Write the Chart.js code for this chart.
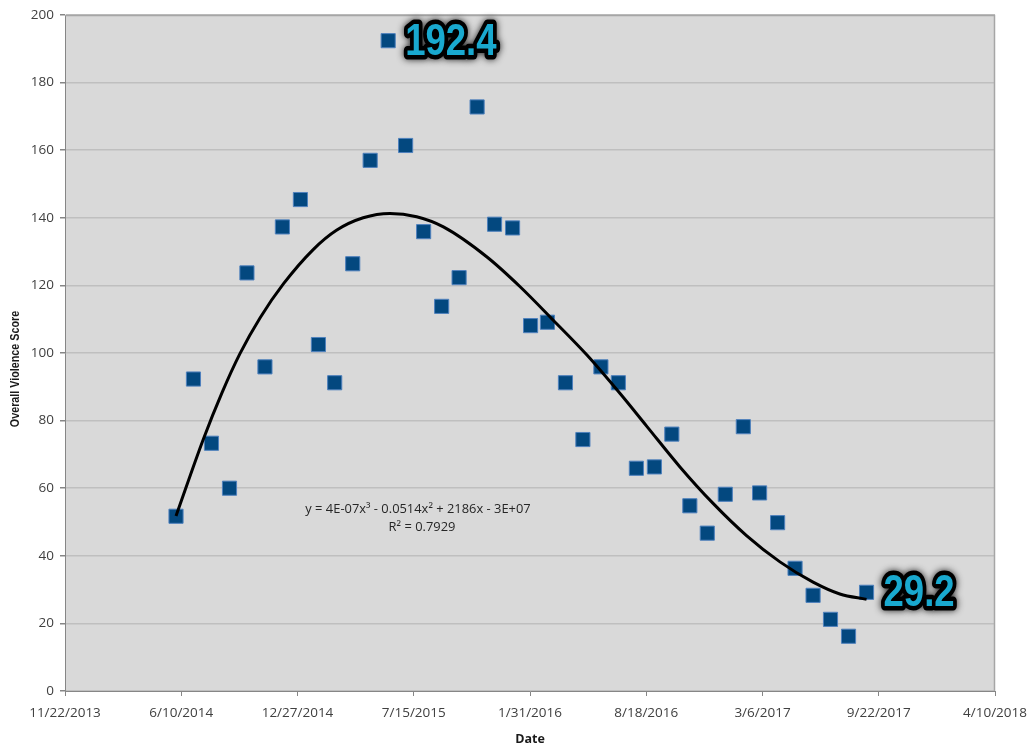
<!DOCTYPE html>
<html>
<head>
<meta charset="utf-8">
<script src="https://cdn.jsdelivr.net/npm/chart.js@4/dist/chart.umd.min.js"></script>
<style>
html,body{margin:0;padding:0;background:#fff;}
#wrap{width:1031px;height:750px;}
</style>
</head>
<body>
<div id="wrap"><canvas id="c" width="1031" height="750"></canvas></div>
<script>
// ---- data ----
const dates = ['2014-06-01','2014-07-01','2014-08-01','2014-09-01','2014-10-01','2014-11-01','2014-12-01',
  '2015-01-01','2015-02-01','2015-03-01','2015-04-01','2015-05-01','2015-06-01','2015-07-01','2015-08-01',
  '2015-09-01','2015-10-01','2015-11-01','2015-12-01','2016-01-01','2016-02-01','2016-03-01','2016-04-01',
  '2016-05-01','2016-06-01','2016-07-01','2016-08-01','2016-09-01','2016-10-01','2016-11-01','2016-12-01',
  '2017-01-01','2017-02-01','2017-03-01','2017-04-01','2017-05-01','2017-06-01','2017-07-01','2017-08-01',
  '2017-09-01'];
const scores = [51.7, 92.3, 73.3, 60.0, 123.7, 95.9, 137.3, 145.4, 102.5, 91.2,
  126.4, 157.0, 192.4, 161.4, 135.9, 113.8, 122.3, 172.8, 138.1, 137.0,
  108.1, 109.1, 91.2, 74.4, 95.9, 91.2, 65.9, 66.3, 76.0, 54.8,
  46.7, 58.2, 78.2, 58.6, 49.8, 36.3, 28.3, 21.2, 16.2, 29.2];
// trendline points (Excel date serial, value)
const trendSerials = [41791, 41838, 41870, 41901, 41936, 41976, 42027, 42067, 42113, 42159,
  42205, 42251, 42326, 42383, 42440, 42498, 42555, 42601, 42658, 42715, 42773, 42830, 42887, 42933, 42979];
const trendValues = [51.8, 74.5, 88.2, 99.8, 110.5, 120.5, 130.6, 136.3, 140.0, 141.3,
  140.3, 137.3, 128.4, 119.6, 109.7, 99.4, 88.0, 78.3, 66.3, 55.5, 45.9, 38.2, 32.2, 28.7, 27.1];
const xTickLabels = ['11/22/2013','6/10/2014','12/27/2014','7/15/2015','1/31/2016','8/18/2016','3/6/2017','9/22/2017','4/10/2018'];
const xMin = 41600, xStep = 200;
const yTickStep = 20, yMin = 0, yMax = 200;
const calloutIndices = [12, 39];
const equationLines = ['y = 4E-07x\u00B3 - 0.0514x\u00B2 + 2186x - 3E+07', 'R\u00B2 = 0.7929'];
const yTitle = 'Overall Violence Score';
const xTitle = 'Date';

function toSerial(s){ const p=s.split('-').map(Number); return Date.UTC(p[0],p[1]-1,p[2])/86400000 + 25569; }

const scatterPts = dates.map((d,i)=>({x:toSerial(d), y:scores[i]}));
const trendPts = trendSerials.map((x,i)=>({x:x, y:trendValues[i]}));
const xMax = xMin + xStep*(xTickLabels.length-1);

const TICK_FONT = {family:'"Open Sans", "Liberation Sans", sans-serif', size:13.5};

const plotDeco = {
  id:'plotDeco',
  beforeDraw(chart){
    const {ctx, chartArea:a} = chart;
    ctx.save();
    ctx.fillStyle = '#d9d9d9';
    ctx.fillRect(a.left, a.top, a.right-a.left, a.bottom-a.top);
    ctx.restore();
  },
  afterDraw(chart){
    const {ctx} = chart;
    ctx.save();
    ctx.fillStyle = '#1a1a1a';
    ctx.font = 'bold 12.5px "Liberation Sans", sans-serif';
    ctx.textAlign = 'center'; ctx.textBaseline = 'middle';
    ctx.translate(16, 369);
    ctx.rotate(-Math.PI/2);
    ctx.scale(0.86, 1);
    ctx.fillText(yTitle, 0, 0);
    ctx.restore();
  },
  afterDatasetsDraw(chart){
    const {ctx, chartArea:a, scales} = chart;
    ctx.save();
    // top / right border
    ctx.strokeStyle = '#a6a6a6'; ctx.lineWidth = 1.5;
    ctx.beginPath();
    ctx.moveTo(a.left, a.top+0.5); ctx.lineTo(a.right-0.5, a.top+0.5); ctx.lineTo(a.right-0.5, a.bottom);
    ctx.stroke();
    // equation
    ctx.fillStyle = '#262626';
    ctx.font = '13.3px "Open Sans", sans-serif';
    ctx.textAlign = 'center'; ctx.textBaseline = 'middle';
    ctx.save(); ctx.translate(418, 509); ctx.scale(0.97,1); ctx.fillText(equationLines[0], 0, 0); ctx.restore();
    ctx.save(); ctx.translate(422, 527); ctx.scale(0.97,1); ctx.fillText(equationLines[1], 0, 0); ctx.restore();
    // callouts
    ctx.font = 'bold 44px "Liberation Sans", sans-serif';
    ctx.textAlign = 'left'; ctx.textBaseline = 'middle';
    calloutIndices.forEach(i=>{
      const px = scales.x.getPixelForValue(scatterPts[i].x);
      const py = scales.y.getPixelForValue(scatterPts[i].y);
      const txt = String(scores[i]);
      ctx.save();
      ctx.translate(px + 17, py + 2);
      ctx.scale(0.83, 1);
      ctx.lineJoin = 'round';
      ctx.shadowColor = 'rgba(0,0,0,0.85)'; ctx.shadowBlur = 7;
      ctx.strokeStyle = '#000'; ctx.lineWidth = 9;
      ctx.strokeText(txt, 0, 0);
      ctx.shadowBlur = 0; ctx.shadowColor = 'transparent';
      ctx.fillStyle = '#19a9cf';
      ctx.fillText(txt, 0, 0);
      ctx.restore();
    });
    ctx.restore();
  }
};

new Chart(document.getElementById('c'), {
  type:'scatter',
  data:{
    datasets:[
      {label:'Trend', data:trendPts, showLine:true, pointRadius:0, pointHoverRadius:0,
       borderColor:'#000', borderWidth:3, cubicInterpolationMode:'monotone', fill:false, order:0},
      {label:'Overall Violence Score', data:scatterPts, pointStyle:'rect', pointRadius:10, pointHoverRadius:10,
       backgroundColor:'#03487f', borderColor:'#4f81bd', borderWidth:1, order:1}
    ]
  },
  options:{
    responsive:false, animation:false,
    layout:{padding:{top:15, right:36, left:0, bottom:0}},
    plugins:{legend:{display:false}, tooltip:{enabled:false}},
    scales:{
      x:{
        type:'linear', min:xMin, max:xMax,
        afterBuildTicks(s){ s.ticks = xTickLabels.map((_,i)=>({value:xMin+i*xStep})); },
        afterFit(s){ s.height = 59; s.paddingLeft = 0; s.paddingRight = 0; },
        ticks:{ callback:(v)=>xTickLabels[Math.round((v-xMin)/xStep)], color:'#404040', font:TICK_FONT,
                padding:9, maxRotation:0, autoSkip:false },
        grid:{ drawOnChartArea:false, drawTicks:true, tickLength:5, color:'#868686', tickColor:'#868686' },
        border:{ color:'#868686', width:1 },
        title:{ display:true, text:xTitle, color:'#1a1a1a',
                font:{family:'"Open Sans", sans-serif', size:12.5, weight:'bold'},
                padding:{top:2, bottom:3} }
      },
      y:{
        min:yMin, max:yMax,
        afterFit(s){ s.width = 65; s.paddingTop = 0; s.paddingBottom = 0; },
        ticks:{ stepSize:yTickStep, color:'#404040', font:TICK_FONT, padding:6 },
        grid:{ color:'#bfbfbf', lineWidth:1.5, tickLength:5, tickColor:'#868686' },
        border:{ color:'#868686', width:1 },
        title:{ display:false }
      }
    }
  },
  plugins:[plotDeco]
});
</script>
</body>
</html>
